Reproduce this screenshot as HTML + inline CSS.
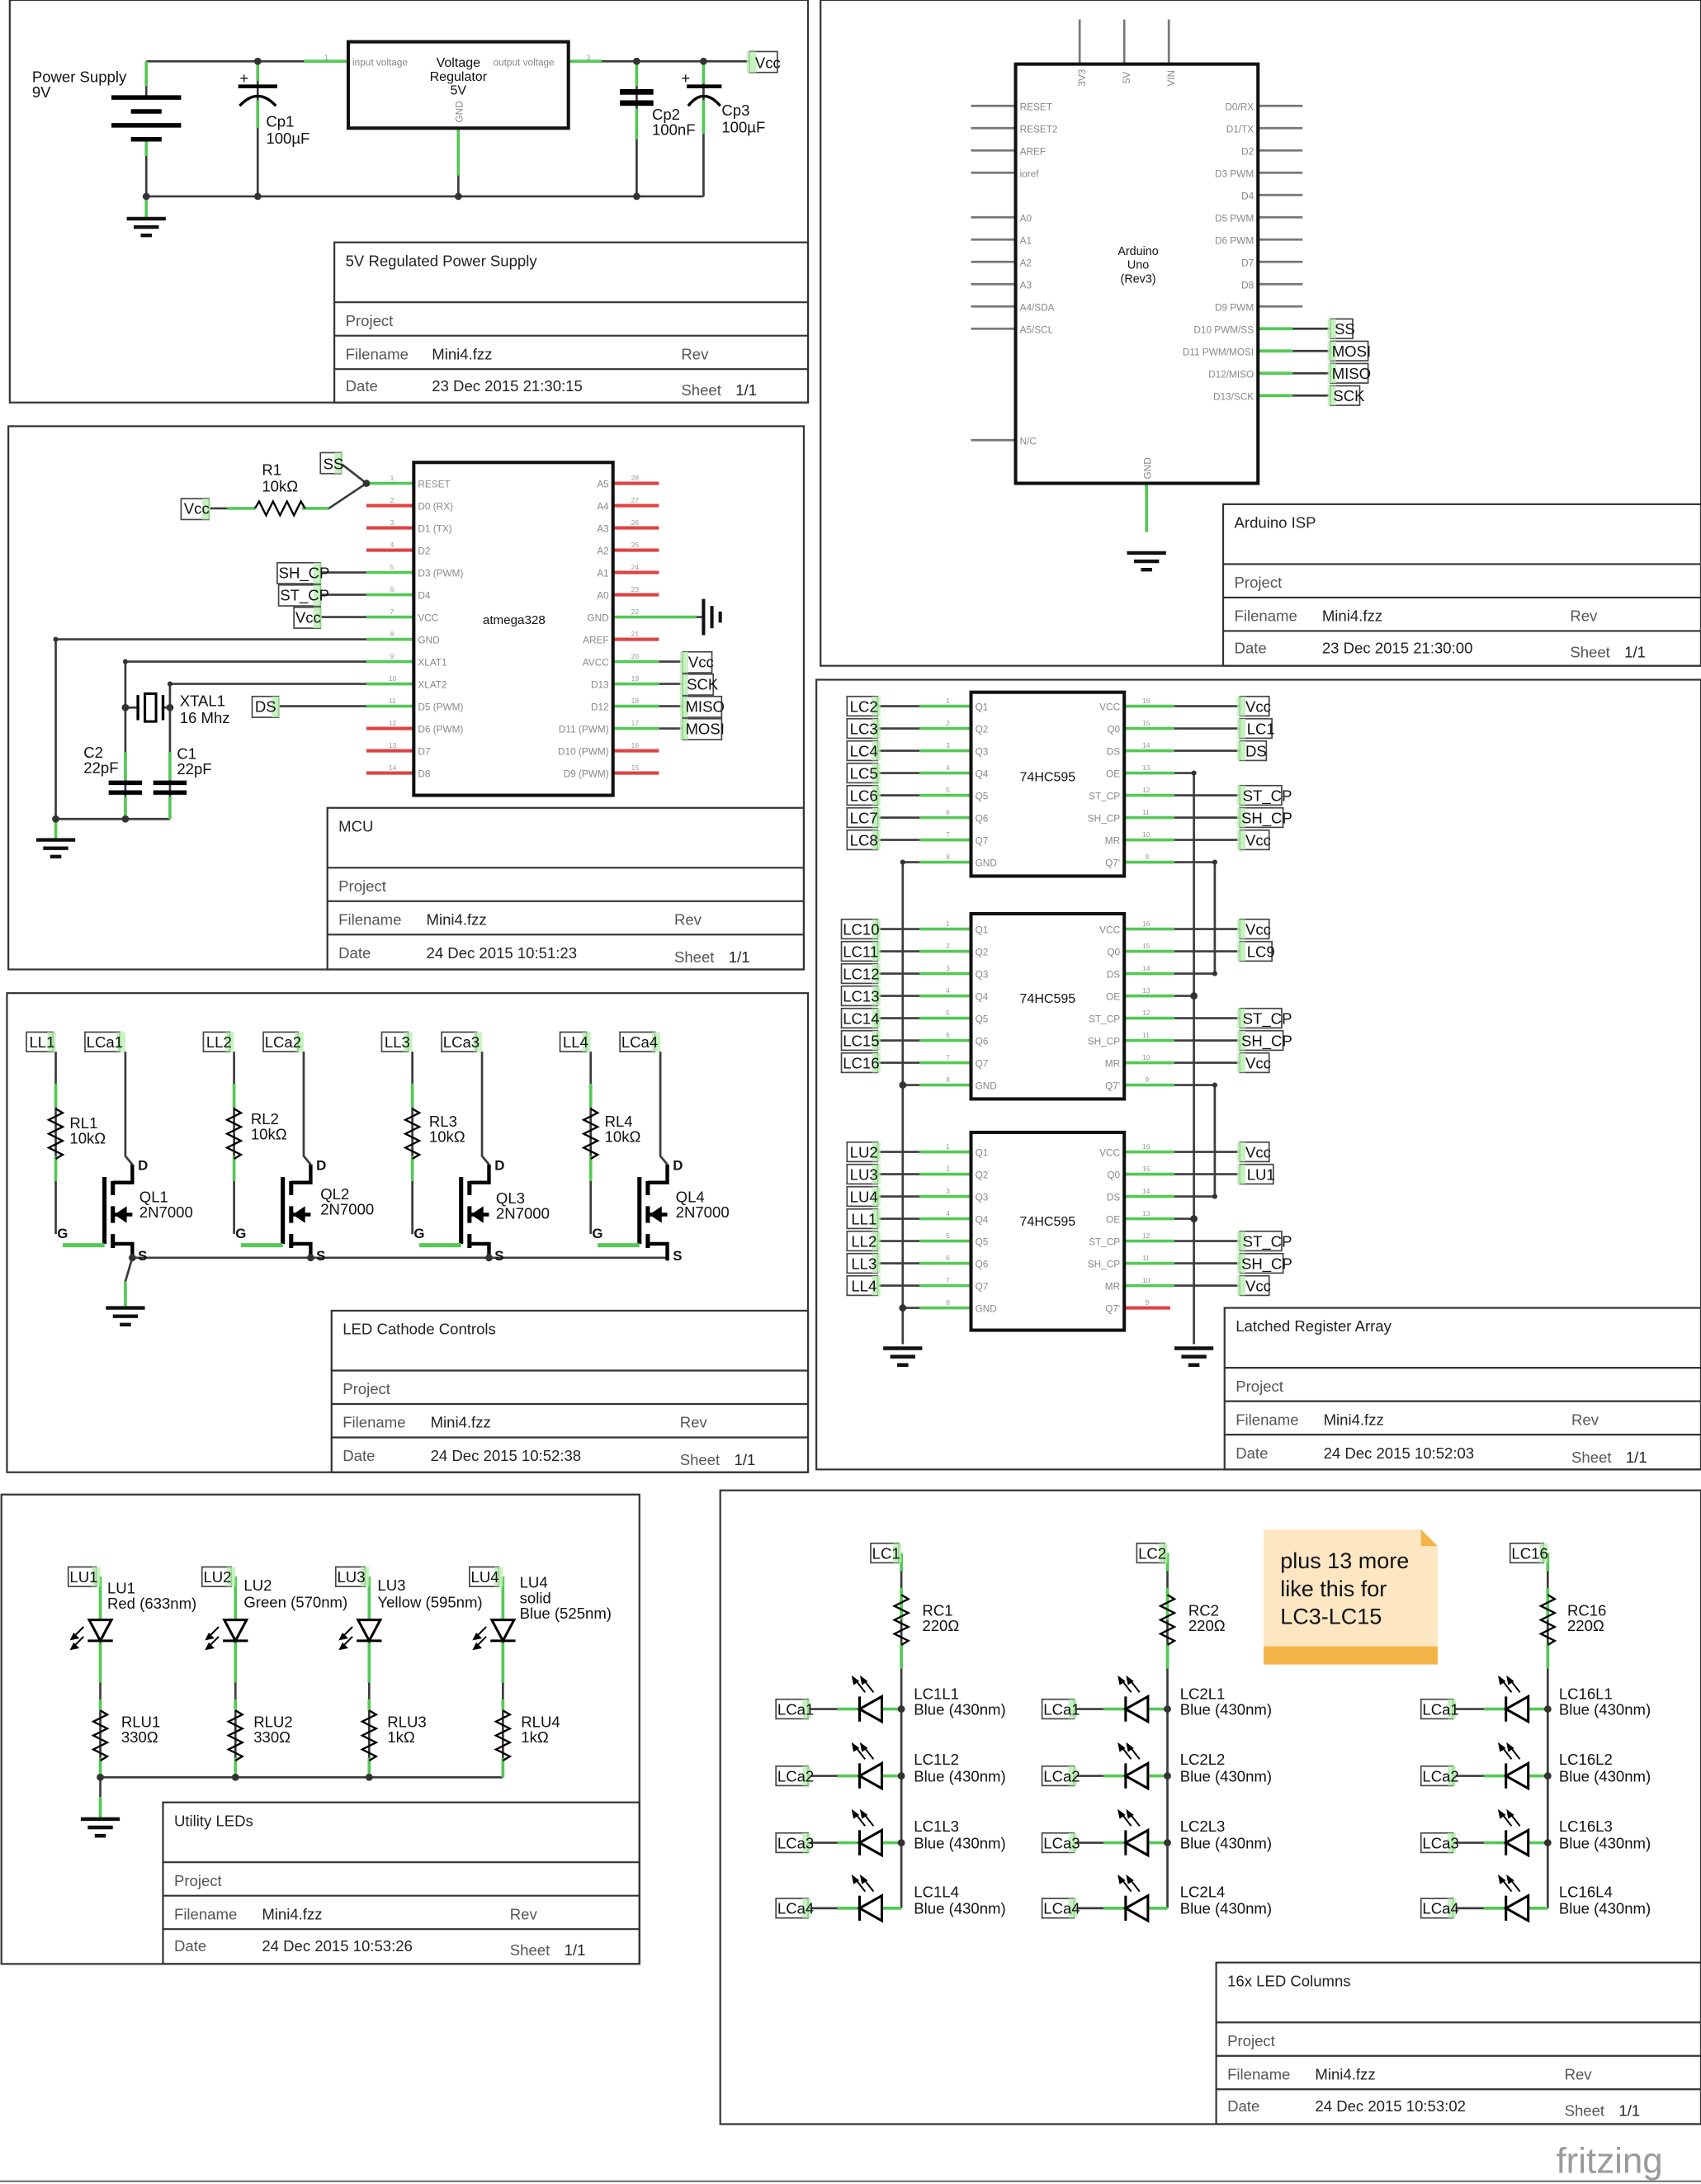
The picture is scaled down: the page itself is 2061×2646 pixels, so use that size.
<!DOCTYPE html>
<html><head><meta charset="utf-8">
<style>
html,body{margin:0;padding:0;background:#fff;}
svg{display:block;font-size:11px;}
text{font-family:"Liberation Sans",sans-serif;fill:#111;}
.fr{fill:none;stroke:#333;stroke-width:1.3}
.w{fill:none;stroke:#3c3c3c;stroke-width:1.6}
.g{fill:none;stroke:#55c855;stroke-width:2.2}
.r{fill:none;stroke:#d44;stroke-width:2.4}
.k{fill:none;stroke:#000;stroke-width:2}
.p{fill:none;stroke:#777;stroke-width:1.6}
.ic{fill:#fff;stroke:#111;stroke-width:2.4}
.pl{font-size:7px;fill:#888}
.pn{font-size:5px;fill:#999}
.nb{fill:#fff;stroke:#444;stroke-width:1}
.ng{fill:#b8f0b0;stroke:none;opacity:.8}
.tb{font-size:11px;fill:#222}
.tg{font-size:11px;fill:#555}
.lb{font-size:11px;fill:#111}
.d{fill:#333}
</style></head><body>
<svg width="2061" height="2646" viewBox="0 0 1221 1568" preserveAspectRatio="none" xmlns="http://www.w3.org/2000/svg" font-size="11">
<defs>
<g id="resV"><path d="M0,-17 l5,3 l-10,5 l10,5 l-10,5 l10,5 l-10,5 l10,5 l-5,3" fill="none" stroke="#000" stroke-width="1.4"/></g>
<g id="resH"><path d="M-17,0 l3,-5 l5,10 l5,-10 l5,10 l5,-10 l5,10 l5,-10 l3,5" fill="none" stroke="#000" stroke-width="1.4"/></g>
<g id="gnd"><path d="M-14,0 H14 M-9,6 H9 M-4,12 H4" stroke="#111" stroke-width="2.6"/></g>
<g id="ledL"><path d="M-14,0 H0 M-46,0 H-30" stroke="#55c855" stroke-width="2.2"/><polygon points="-14,-9 -14,9 -30,0" fill="#fff" stroke="#000" stroke-width="1.8"/><path d="M-30,-9 V9" stroke="#000" stroke-width="1.8"/><path d="M-26,-12 L-33,-21 M-20,-12 L-27,-21" stroke="#000" stroke-width="1.2"/><path d="M-35,-23 l1,5 l3,-2z M-29,-23 l1,5 l3,-2z" fill="#000" stroke="#000" stroke-width="1"/></g>
<g id="ledD"><polygon points="-8,0 8,0 0,15" fill="#fff" stroke="#000" stroke-width="1.8"/><path d="M-9,15 H9" stroke="#000" stroke-width="1.8"/><path d="M-12,5 L-20,13 M-12,12 L-20,20" stroke="#000" stroke-width="1.2"/><path d="M-21,14 l5,-1 l-3,-3z M-21,21 l5,-1 l-3,-3z" fill="#000" stroke="#000" stroke-width="1"/></g>
<g id="fet"><path d="M-20,-13 V35" stroke="#000" stroke-width="3"/><path d="M-14,-10 V0 M-14,8 V20 M-14,28 V38" stroke="#000" stroke-width="3"/><path d="M-14,-9 H0 V-22 M-14,35 H0 V47 M-14,14 H0" stroke="#000" stroke-width="2.6" fill="none"/><polygon points="-13,14 -4,8 -4,20" fill="#000"/><path d="M-50,36 H-20" stroke="#55c855" stroke-width="3"/></g>
</defs>

<!-- ============ PANEL 1: POWER SUPPLY ============ -->
<rect class="fr" x="7" y="0" width="573" height="289"/>
<path class="w" d="M105,44 H250 M408,44 H540 M105,141 H505 M105,100 V141 M185,44 V141 M457,44 V141 M505,44 V141 M329,92 V141 M105,44 V70"/>
<path class="g" d="M105,44 V62 M105,100 V112 M185,44 V58 M185,72 V92 M218,44 H250 M408,44 H432 M457,44 V62 M457,78 V100 M505,44 V60 M505,72 V96 M329,92 V126 M105,141 V157"/>
<path d="M80,70 H130 M94,80 H116 M80,90 H130 M94,100 H116" stroke="#000" stroke-width="3.2"/>
<path d="M171,62 H199" stroke="#000" stroke-width="2.6"/><path d="M172,76 Q185,62 198,76" class="k"/>
<path d="M445,66 H469 M445,74 H469" stroke="#000" stroke-width="4"/>
<path d="M493,62 H518" stroke="#000" stroke-width="2.6"/><path d="M494,76 Q505,62 517,76" class="k"/>
<text x="172" y="60" font-size="11">+</text><text x="489" y="60" font-size="11">+</text>
<rect class="ic" x="250" y="30" width="158" height="62"/>
<text x="329" y="48" text-anchor="middle" font-size="9.5">Voltage</text>
<text x="329" y="58" text-anchor="middle" font-size="9.5">Regulator</text>
<text x="329" y="68" text-anchor="middle" font-size="9.5">5V</text>
<text x="253" y="47" class="pl">input voltage</text>
<text x="354" y="47" class="pl">output voltage</text>
<text x="332" y="88" class="pl" transform="rotate(-90 332 88)">GND</text>
<text x="233" y="43" class="pn">1</text><text x="421" y="43" class="pn">3</text>
<circle class="d" cx="105" cy="141" r="2.6"/><circle class="d" cx="185" cy="141" r="2.6"/><circle class="d" cx="329" cy="141" r="2.6"/><circle class="d" cx="457" cy="141" r="2.6"/><circle class="d" cx="185" cy="44" r="2.6"/><circle class="d" cx="457" cy="44" r="2.6"/><circle class="d" cx="505" cy="44" r="2.6"/>
<use href="#gnd" x="105" y="157"/>
<text x="23" y="59" class="lb">Power Supply</text><text x="23" y="70" class="lb">9V</text>
<text x="191" y="91" class="lb">Cp1</text><text x="191" y="103" class="lb">100µF</text>
<text x="468" y="86" class="lb">Cp2</text><text x="468" y="97" class="lb">100nF</text>
<text x="518" y="83" class="lb">Cp3</text><text x="518" y="95" class="lb">100µF</text>
<rect class="nb" x="538" y="37" width="20" height="15"/><rect class="ng" x="536" y="37" width="7" height="15"/><text x="542" y="49" class="lb">Vcc</text>
<rect class="fr" x="240" y="174" width="340" height="115"/><path class="fr" d="M240,217 H580 M240,241 H580 M240,265 H580"/>
<text x="248" y="191" class="tb">5V Regulated Power Supply</text>
<text x="248" y="234" class="tg">Project</text>
<text x="248" y="258" class="tg">Filename</text><text x="310" y="258" class="tb">Mini4.fzz</text><text x="489" y="258" class="tg">Rev</text>
<text x="248" y="281" class="tg">Date</text><text x="310" y="281" class="tb">23 Dec 2015 21:30:15</text><text x="489" y="284" class="tg">Sheet</text><text x="528" y="284" class="tb">1/1</text>

<!-- ============ PANEL 2: ARDUINO ISP ============ -->
<rect class="fr" x="589" y="0" width="632" height="478"/>
<path class="p" d="M775,14 V46 M807,14 V46 M839,14 V46"/>
<path class="p" d="M697,76 H729 M697,92 H729 M697,108 H729 M697,124 H729 M697,156 H729 M697,172 H729 M697,188 H729 M697,204 H729 M697,220 H729 M697,236 H729 M697,316 H729"/>
<path class="p" d="M903,76 H935 M903,92 H935 M903,108 H935 M903,124 H935 M903,140 H935 M903,156 H935 M903,172 H935 M903,188 H935 M903,204 H935 M903,220 H935"/>
<path class="w" d="M925,236 H955 M925,252 H955 M925,268 H955 M925,284 H955"/>
<path class="g" d="M903,236 H928 M903,252 H928 M903,268 H928 M903,284 H928 M823,347 V382"/>
<rect class="ic" x="729" y="46" width="174" height="301"/>
<text x="779" y="62" class="pl" transform="rotate(-90 779 62)">3V3</text>
<text x="811" y="60" class="pl" transform="rotate(-90 811 60)">5V</text>
<text x="843" y="62" class="pl" transform="rotate(-90 843 62)">VIN</text>
<text x="732" y="79" class="pl">RESET</text><text x="732" y="95" class="pl">RESET2</text><text x="732" y="111" class="pl">AREF</text><text x="732" y="127" class="pl">ioref</text>
<text x="732" y="159" class="pl">A0</text><text x="732" y="175" class="pl">A1</text><text x="732" y="191" class="pl">A2</text><text x="732" y="207" class="pl">A3</text><text x="732" y="223" class="pl">A4/SDA</text><text x="732" y="239" class="pl">A5/SCL</text><text x="732" y="319" class="pl">N/C</text>
<g text-anchor="end">
<text x="900" y="79" class="pl">D0/RX</text><text x="900" y="95" class="pl">D1/TX</text><text x="900" y="111" class="pl">D2</text><text x="900" y="127" class="pl">D3 PWM</text><text x="900" y="143" class="pl">D4</text><text x="900" y="159" class="pl">D5 PWM</text><text x="900" y="175" class="pl">D6 PWM</text><text x="900" y="191" class="pl">D7</text><text x="900" y="207" class="pl">D8</text><text x="900" y="223" class="pl">D9 PWM</text><text x="900" y="239" class="pl">D10 PWM/SS</text><text x="900" y="255" class="pl">D11 PWM/MOSI</text><text x="900" y="271" class="pl">D12/MISO</text><text x="900" y="287" class="pl">D13/SCK</text>
</g>
<text x="817" y="183" text-anchor="middle" font-size="8.5">Arduino</text><text x="817" y="193" text-anchor="middle" font-size="8.5">Uno</text><text x="817" y="203" text-anchor="middle" font-size="8.5">(Rev3)</text>
<text x="826" y="344" class="pl" transform="rotate(-90 826 344)">GND</text>
<rect class="nb" x="955" y="229" width="16" height="14"/><rect class="ng" x="953" y="229" width="6" height="14"/><text x="958" y="240" class="lb">SS</text>
<rect class="nb" x="955" y="245" width="27" height="14"/><rect class="ng" x="953" y="245" width="6" height="14"/><text x="956" y="256" class="lb">MOSI</text>
<rect class="nb" x="955" y="261" width="27" height="14"/><rect class="ng" x="953" y="261" width="6" height="14"/><text x="956" y="272" class="lb">MISO</text>
<rect class="nb" x="955" y="277" width="21" height="14"/><rect class="ng" x="953" y="277" width="6" height="14"/><text x="957" y="288" class="lb">SCK</text>
<use href="#gnd" x="823" y="397"/>
<rect class="fr" x="878" y="362" width="343" height="116"/><path class="fr" d="M878,405 H1221 M878,429 H1221 M878,453 H1221"/>
<text x="886" y="379" class="tb">Arduino ISP</text>
<text x="886" y="422" class="tg">Project</text>
<text x="886" y="446" class="tg">Filename</text><text x="949" y="446" class="tb">Mini4.fzz</text><text x="1127" y="446" class="tg">Rev</text>
<text x="886" y="469" class="tg">Date</text><text x="949" y="469" class="tb">23 Dec 2015 21:30:00</text><text x="1127" y="472" class="tg">Sheet</text><text x="1166" y="472" class="tb">1/1</text>

<!-- ============ PANEL 3: MCU ============ -->
<rect class="fr" x="6" y="306" width="571" height="390"/>
<path class="r" d="M263,363 H297 M263,379 H297 M263,395 H297 M263,523 H297 M263,539 H297 M263,555 H297"/>
<path class="r" d="M440,347 H473 M440,363 H473 M440,379 H473 M440,395 H473 M440,411 H473 M440,427 H473 M440,459 H473 M440,539 H473 M440,555 H473"/>
<path class="w" d="M200,411 H263 M230,427 H263 M230,443 H263 M40,459 H263 M90,475 H263 M122,491 H263 M200,507 H263 M473,443 H505 M473,475 H490 M473,491 H490 M473,507 H490 M473,523 H490 M150,365 H183 M217,365 H236 L263,347 M245,333 L263,347 M40,459 V588 M40,588 H122 M90,475 V588 M122,491 V588 M90,508 H99 M117,508 H122"/>
<path class="g" d="M263,347 H297 M263,411 H297 M263,427 H297 M263,443 H297 M263,459 H297 M263,475 H297 M263,491 H297 M263,507 H297 M440,443 H473 M440,475 H473 M440,491 H473 M440,507 H473 M440,523 H473 M473,443 H500 M163,365 H183 M217,365 H236 M90,540 V560 M122,540 V560 M90,572 V588 M122,572 V588 M40,588 V602"/>
<rect class="ic" x="297" y="332" width="143" height="239"/>
<text x="300" y="350" class="pl">RESET</text><text x="300" y="366" class="pl">D0 (RX)</text><text x="300" y="382" class="pl">D1 (TX)</text><text x="300" y="398" class="pl">D2</text><text x="300" y="414" class="pl">D3 (PWM)</text><text x="300" y="430" class="pl">D4</text><text x="300" y="446" class="pl">VCC</text><text x="300" y="462" class="pl">GND</text><text x="300" y="478" class="pl">XLAT1</text><text x="300" y="494" class="pl">XLAT2</text><text x="300" y="510" class="pl">D5 (PWM)</text><text x="300" y="526" class="pl">D6 (PWM)</text><text x="300" y="542" class="pl">D7</text><text x="300" y="558" class="pl">D8</text>
<g text-anchor="end">
<text x="437" y="350" class="pl">A5</text><text x="437" y="366" class="pl">A4</text><text x="437" y="382" class="pl">A3</text><text x="437" y="398" class="pl">A2</text><text x="437" y="414" class="pl">A1</text><text x="437" y="430" class="pl">A0</text><text x="437" y="446" class="pl">GND</text><text x="437" y="462" class="pl">AREF</text><text x="437" y="478" class="pl">AVCC</text><text x="437" y="494" class="pl">D13</text><text x="437" y="510" class="pl">D12</text><text x="437" y="526" class="pl">D11 (PWM)</text><text x="437" y="542" class="pl">D10 (PWM)</text><text x="437" y="558" class="pl">D9 (PWM)</text>
</g>
<text x="280" y="345" class="pn">1</text><text x="280" y="361" class="pn">2</text><text x="280" y="377" class="pn">3</text><text x="280" y="393" class="pn">4</text><text x="280" y="409" class="pn">5</text><text x="280" y="425" class="pn">6</text><text x="280" y="441" class="pn">7</text><text x="280" y="457" class="pn">8</text><text x="280" y="473" class="pn">9</text><text x="279" y="489" class="pn">10</text><text x="279" y="505" class="pn">11</text><text x="279" y="521" class="pn">12</text><text x="279" y="537" class="pn">13</text><text x="279" y="553" class="pn">14</text>
<text x="453" y="345" class="pn">28</text><text x="453" y="361" class="pn">27</text><text x="453" y="377" class="pn">26</text><text x="453" y="393" class="pn">25</text><text x="453" y="409" class="pn">24</text><text x="453" y="425" class="pn">23</text><text x="453" y="441" class="pn">22</text><text x="453" y="457" class="pn">21</text><text x="453" y="473" class="pn">20</text><text x="453" y="489" class="pn">19</text><text x="453" y="505" class="pn">18</text><text x="453" y="521" class="pn">17</text><text x="453" y="537" class="pn">16</text><text x="453" y="553" class="pn">15</text>
<text x="369" y="448" text-anchor="middle" font-size="9">atmega328</text>
<path d="M505,430 V456 M511,435 V451 M517,439 V447" stroke="#111" stroke-width="2.4"/>
<use href="#resH" x="200" y="365"/>
<text x="188" y="341" class="lb">R1</text><text x="188" y="353" class="lb">10kΩ</text>
<rect class="nb" x="230" y="325" width="15" height="15"/><rect class="ng" x="240" y="325" width="6" height="15"/><text x="232" y="337" class="lb">SS</text>
<rect class="nb" x="130" y="358" width="20" height="15"/><rect class="ng" x="145" y="358" width="6" height="15"/><text x="132" y="369" class="lb">Vcc</text>
<rect class="nb" x="199" y="404" width="31" height="15"/><rect class="ng" x="225" y="404" width="6" height="15"/><text x="200" y="415" class="lb">SH_CP</text>
<rect class="nb" x="200" y="420" width="30" height="15"/><rect class="ng" x="225" y="420" width="6" height="15"/><text x="201" y="431" class="lb">ST_CP</text>
<rect class="nb" x="211" y="436" width="19" height="15"/><rect class="ng" x="225" y="436" width="6" height="15"/><text x="212" y="447" class="lb">Vcc</text>
<rect class="nb" x="181" y="500" width="19" height="15"/><rect class="ng" x="195" y="500" width="6" height="15"/><text x="183" y="511" class="lb">DS</text>
<rect class="nb" x="490" y="468" width="21" height="15"/><rect class="ng" x="488" y="468" width="6" height="15"/><text x="494" y="479" class="lb">Vcc</text>
<rect class="nb" x="490" y="484" width="22" height="15"/><rect class="ng" x="488" y="484" width="6" height="15"/><text x="493" y="495" class="lb">SCK</text>
<rect class="nb" x="490" y="500" width="28" height="15"/><rect class="ng" x="488" y="500" width="6" height="15"/><text x="492" y="511" class="lb">MISO</text>
<rect class="nb" x="490" y="516" width="28" height="15"/><rect class="ng" x="488" y="516" width="6" height="15"/><text x="492" y="527" class="lb">MOSI</text>
<path d="M99,499 V517 M117,499 V517" stroke="#000" stroke-width="2"/><rect x="104" y="498" width="8" height="20" fill="#fff" stroke="#000" stroke-width="1.8"/>
<text x="129" y="507" class="lb">XTAL1</text><text x="129" y="519" class="lb">16 Mhz</text>
<path d="M78,562 H102 M78,569 H102 M110,562 H134 M110,569 H134" stroke="#000" stroke-width="3.2"/>
<text x="60" y="544" class="lb">C2</text><text x="60" y="555" class="lb">22pF</text>
<text x="127" y="545" class="lb">C1</text><text x="127" y="556" class="lb">22pF</text>
<circle class="d" cx="263" cy="347" r="2.6"/><circle class="d" cx="40" cy="459" r="1.8"/><circle class="d" cx="90" cy="475" r="1.8"/><circle class="d" cx="122" cy="491" r="1.8"/><circle class="d" cx="90" cy="508" r="2.6"/><circle class="d" cx="122" cy="508" r="2.6"/><circle class="d" cx="40" cy="588" r="2.6"/><circle class="d" cx="90" cy="588" r="2.6"/>
<use href="#gnd" x="40" y="603"/>
<rect class="fr" x="235" y="580" width="342" height="116"/><path class="fr" d="M235,623 H577 M235,647 H577 M235,671 H577"/>
<text x="243" y="597" class="tb">MCU</text>
<text x="243" y="640" class="tg">Project</text>
<text x="243" y="664" class="tg">Filename</text><text x="306" y="664" class="tb">Mini4.fzz</text><text x="484" y="664" class="tg">Rev</text>
<text x="243" y="688" class="tg">Date</text><text x="306" y="688" class="tb">24 Dec 2015 10:51:23</text><text x="484" y="691" class="tg">Sheet</text><text x="523" y="691" class="tb">1/1</text>

<!-- ============ PANEL 4: LED CATHODE ============ -->
<rect class="fr" x="5" y="713" width="575" height="344"/>
<path class="w" d="M40,755 V886 M90,755 V830 L95,836 M168,755 V886 M218,755 V830 L223,836 M296,755 V886 M346,755 V830 L351,836 M424,755 V886 M474,755 V830 L479,836 M95,903 H480 M95,903 L90,920 V938"/>
<path class="g" d="M40,778 V795 M40,830 V848 M168,778 V795 M168,830 V848 M296,778 V795 M296,830 V848 M424,778 V795 M424,830 V848 M90,920 V938"/>
<use href="#fet" x="95" y="858"/><use href="#fet" x="223" y="858"/><use href="#fet" x="351" y="858"/><use href="#fet" x="479" y="858"/>
<text x="99" y="840" font-weight="bold" font-size="10">D</text><text x="41" y="889" font-weight="bold" font-size="10">G</text><text x="99" y="905" font-weight="bold" font-size="10">S</text>
<text x="227" y="840" font-weight="bold" font-size="10">D</text><text x="169" y="889" font-weight="bold" font-size="10">G</text><text x="227" y="905" font-weight="bold" font-size="10">S</text>
<text x="355" y="840" font-weight="bold" font-size="10">D</text><text x="297" y="889" font-weight="bold" font-size="10">G</text><text x="355" y="905" font-weight="bold" font-size="10">S</text>
<text x="483" y="840" font-weight="bold" font-size="10">D</text><text x="425" y="889" font-weight="bold" font-size="10">G</text><text x="483" y="905" font-weight="bold" font-size="10">S</text>
<use href="#resV" x="40" y="813"/><use href="#resV" x="168" y="813"/><use href="#resV" x="296" y="813"/><use href="#resV" x="424" y="813"/>
<text x="50" y="810" class="lb">RL1</text><text x="50" y="821" class="lb">10kΩ</text>
<text x="180" y="807" class="lb">RL2</text><text x="180" y="818" class="lb">10kΩ</text>
<text x="308" y="809" class="lb">RL3</text><text x="308" y="820" class="lb">10kΩ</text>
<text x="434" y="809" class="lb">RL4</text><text x="434" y="820" class="lb">10kΩ</text>
<text x="100" y="863" class="lb">QL1</text><text x="100" y="874" class="lb">2N7000</text>
<text x="230" y="861" class="lb">QL2</text><text x="230" y="872" class="lb">2N7000</text>
<text x="356" y="864" class="lb">QL3</text><text x="356" y="875" class="lb">2N7000</text>
<text x="485" y="863" class="lb">QL4</text><text x="485" y="874" class="lb">2N7000</text>
<rect class="nb" x="19" y="741" width="19" height="14"/><rect class="ng" x="34" y="741" width="6" height="14"/><text x="21" y="752" class="lb">LL1</text>
<rect class="nb" x="61" y="741" width="25" height="14"/><rect class="ng" x="84" y="741" width="6" height="14"/><text x="62" y="752" class="lb">LCa1</text>
<rect class="nb" x="146" y="741" width="19" height="14"/><rect class="ng" x="162" y="741" width="6" height="14"/><text x="148" y="752" class="lb">LL2</text>
<rect class="nb" x="189" y="741" width="25" height="14"/><rect class="ng" x="212" y="741" width="6" height="14"/><text x="190" y="752" class="lb">LCa2</text>
<rect class="nb" x="274" y="741" width="19" height="14"/><rect class="ng" x="290" y="741" width="6" height="14"/><text x="276" y="752" class="lb">LL3</text>
<rect class="nb" x="317" y="741" width="25" height="14"/><rect class="ng" x="340" y="741" width="6" height="14"/><text x="318" y="752" class="lb">LCa3</text>
<rect class="nb" x="402" y="741" width="19" height="14"/><rect class="ng" x="418" y="741" width="6" height="14"/><text x="404" y="752" class="lb">LL4</text>
<rect class="nb" x="445" y="741" width="25" height="14"/><rect class="ng" x="468" y="741" width="6" height="14"/><text x="446" y="752" class="lb">LCa4</text>
<circle class="d" cx="95" cy="903" r="2.6"/><circle class="d" cx="223" cy="903" r="2.6"/><circle class="d" cx="351" cy="903" r="2.6"/>
<use href="#gnd" x="90" y="939"/>
<rect class="fr" x="238" y="941" width="342" height="116"/><path class="fr" d="M238,984 H580 M238,1008 H580 M238,1032 H580"/>
<text x="246" y="958" class="tb">LED Cathode Controls</text>
<text x="246" y="1001" class="tg">Project</text>
<text x="246" y="1025" class="tg">Filename</text><text x="309" y="1025" class="tb">Mini4.fzz</text><text x="488" y="1025" class="tg">Rev</text>
<text x="246" y="1049" class="tg">Date</text><text x="309" y="1049" class="tb">24 Dec 2015 10:52:38</text><text x="488" y="1052" class="tg">Sheet</text><text x="527" y="1052" class="tb">1/1</text>

<!-- ============ PANEL 5: LATCHED REGISTER ============ -->
<rect class="fr" x="586" y="488" width="635" height="567"/>
<path class="w" d="M630,507 H697 M630,523 H697 M630,539 H697 M630,555 H697 M630,571 H697 M630,587 H697 M630,603 H697
M630,667 H697 M630,683 H697 M630,699 H697 M630,715 H697 M630,731 H697 M630,747 H697 M630,763 H697
M630,827 H697 M630,843 H697 M630,859 H697 M630,875 H697 M630,891 H697 M630,907 H697 M630,923 H697
M648,619 H697 M648,779 H697 M648,939 H697 M648,619 V965"/>
<path class="g" d="M660,507 H697 M660,523 H697 M660,539 H697 M660,555 H697 M660,571 H697 M660,587 H697 M660,603 H697 M660,619 H697
M660,667 H697 M660,683 H697 M660,699 H697 M660,715 H697 M660,731 H697 M660,747 H697 M660,763 H697 M660,779 H697
M660,827 H697 M660,843 H697 M660,859 H697 M660,875 H697 M660,891 H697 M660,907 H697 M660,923 H697 M660,939 H697"/>
<path class="w" d="M807,507 H890 M807,523 H890 M807,539 H890 M807,555 H857 M807,571 H890 M807,587 H890 M807,603 H890 M807,619 H872 V699 H807
M807,667 H890 M807,683 H890 M807,715 H857 M807,731 H890 M807,747 H890 M807,763 H890 M807,779 H872 V859 H807
M807,827 H890 M807,843 H890 M807,875 H857 M807,891 H890 M807,907 H890 M807,923 H890 M857,555 V965"/>
<path class="g" d="M807,507 H843 M807,523 H843 M807,539 H843 M807,555 H843 M807,571 H843 M807,587 H843 M807,603 H843 M807,619 H843
M807,667 H843 M807,683 H843 M807,699 H843 M807,715 H843 M807,731 H843 M807,747 H843 M807,763 H843 M807,779 H843
M807,827 H843 M807,843 H843 M807,859 H843 M807,875 H843 M807,891 H843 M807,907 H843 M807,923 H843"/>
<path class="r" d="M807,939 H840"/>
<rect class="ic" x="697" y="497" width="110" height="132"/>
<rect class="ic" x="697" y="656" width="110" height="133"/>
<rect class="ic" x="697" y="813" width="110" height="142"/>
<text x="752" y="561" text-anchor="middle" font-size="9.5">74HC595</text>
<text x="752" y="720" text-anchor="middle" font-size="9.5">74HC595</text>
<text x="752" y="880" text-anchor="middle" font-size="9.5">74HC595</text>
<text x="700" y="510" class="pl">Q1</text><text x="700" y="526" class="pl">Q2</text><text x="700" y="542" class="pl">Q3</text><text x="700" y="558" class="pl">Q4</text><text x="700" y="574" class="pl">Q5</text><text x="700" y="590" class="pl">Q6</text><text x="700" y="606" class="pl">Q7</text><text x="700" y="622" class="pl">GND</text>
<text x="700" y="670" class="pl">Q1</text><text x="700" y="686" class="pl">Q2</text><text x="700" y="702" class="pl">Q3</text><text x="700" y="718" class="pl">Q4</text><text x="700" y="734" class="pl">Q5</text><text x="700" y="750" class="pl">Q6</text><text x="700" y="766" class="pl">Q7</text><text x="700" y="782" class="pl">GND</text>
<text x="700" y="830" class="pl">Q1</text><text x="700" y="846" class="pl">Q2</text><text x="700" y="862" class="pl">Q3</text><text x="700" y="878" class="pl">Q4</text><text x="700" y="894" class="pl">Q5</text><text x="700" y="910" class="pl">Q6</text><text x="700" y="926" class="pl">Q7</text><text x="700" y="942" class="pl">GND</text>
<g text-anchor="end">
<text x="804" y="510" class="pl">VCC</text><text x="804" y="526" class="pl">Q0</text><text x="804" y="542" class="pl">DS</text><text x="804" y="558" class="pl">OE</text><text x="804" y="574" class="pl">ST_CP</text><text x="804" y="590" class="pl">SH_CP</text><text x="804" y="606" class="pl">MR</text><text x="804" y="622" class="pl">Q7'</text>
<text x="804" y="670" class="pl">VCC</text><text x="804" y="686" class="pl">Q0</text><text x="804" y="702" class="pl">DS</text><text x="804" y="718" class="pl">OE</text><text x="804" y="734" class="pl">ST_CP</text><text x="804" y="750" class="pl">SH_CP</text><text x="804" y="766" class="pl">MR</text><text x="804" y="782" class="pl">Q7'</text>
<text x="804" y="830" class="pl">VCC</text><text x="804" y="846" class="pl">Q0</text><text x="804" y="862" class="pl">DS</text><text x="804" y="878" class="pl">OE</text><text x="804" y="894" class="pl">ST_CP</text><text x="804" y="910" class="pl">SH_CP</text><text x="804" y="926" class="pl">MR</text><text x="804" y="942" class="pl">Q7'</text>
</g>
<text x="679" y="505" class="pn">1</text><text x="679" y="521" class="pn">2</text><text x="679" y="537" class="pn">3</text><text x="679" y="553" class="pn">4</text><text x="679" y="569" class="pn">5</text><text x="679" y="585" class="pn">6</text><text x="679" y="601" class="pn">7</text><text x="679" y="617" class="pn">8</text>
<text x="679" y="665" class="pn">1</text><text x="679" y="681" class="pn">2</text><text x="679" y="697" class="pn">3</text><text x="679" y="713" class="pn">4</text><text x="679" y="729" class="pn">5</text><text x="679" y="745" class="pn">6</text><text x="679" y="761" class="pn">7</text><text x="679" y="777" class="pn">8</text>
<text x="679" y="825" class="pn">1</text><text x="679" y="841" class="pn">2</text><text x="679" y="857" class="pn">3</text><text x="679" y="873" class="pn">4</text><text x="679" y="889" class="pn">5</text><text x="679" y="905" class="pn">6</text><text x="679" y="921" class="pn">7</text><text x="679" y="937" class="pn">8</text>
<text x="820" y="505" class="pn">16</text><text x="820" y="521" class="pn">15</text><text x="820" y="537" class="pn">14</text><text x="820" y="553" class="pn">13</text><text x="820" y="569" class="pn">12</text><text x="820" y="585" class="pn">11</text><text x="820" y="601" class="pn">10</text><text x="822" y="617" class="pn">9</text>
<text x="820" y="665" class="pn">16</text><text x="820" y="681" class="pn">15</text><text x="820" y="697" class="pn">14</text><text x="820" y="713" class="pn">13</text><text x="820" y="729" class="pn">12</text><text x="820" y="745" class="pn">11</text><text x="820" y="761" class="pn">10</text><text x="822" y="777" class="pn">9</text>
<text x="820" y="825" class="pn">16</text><text x="820" y="841" class="pn">15</text><text x="820" y="857" class="pn">14</text><text x="820" y="873" class="pn">13</text><text x="820" y="889" class="pn">12</text><text x="820" y="905" class="pn">11</text><text x="820" y="921" class="pn">10</text><text x="822" y="937" class="pn">9</text>
<rect class="nb" x="608" y="500" width="22" height="14"/><rect class="ng" x="626" y="500" width="6" height="14"/><text x="610" y="511" class="lb">LC2</text>
<rect class="nb" x="608" y="516" width="22" height="14"/><rect class="ng" x="626" y="516" width="6" height="14"/><text x="610" y="527" class="lb">LC3</text>
<rect class="nb" x="608" y="532" width="22" height="14"/><rect class="ng" x="626" y="532" width="6" height="14"/><text x="610" y="543" class="lb">LC4</text>
<rect class="nb" x="608" y="548" width="22" height="14"/><rect class="ng" x="626" y="548" width="6" height="14"/><text x="610" y="559" class="lb">LC5</text>
<rect class="nb" x="608" y="564" width="22" height="14"/><rect class="ng" x="626" y="564" width="6" height="14"/><text x="610" y="575" class="lb">LC6</text>
<rect class="nb" x="608" y="580" width="22" height="14"/><rect class="ng" x="626" y="580" width="6" height="14"/><text x="610" y="591" class="lb">LC7</text>
<rect class="nb" x="608" y="596" width="22" height="14"/><rect class="ng" x="626" y="596" width="6" height="14"/><text x="610" y="607" class="lb">LC8</text>
<rect class="nb" x="604" y="660" width="26" height="14"/><rect class="ng" x="626" y="660" width="6" height="14"/><text x="605" y="671" class="lb">LC10</text>
<rect class="nb" x="604" y="676" width="26" height="14"/><rect class="ng" x="626" y="676" width="6" height="14"/><text x="605" y="687" class="lb">LC11</text>
<rect class="nb" x="604" y="692" width="26" height="14"/><rect class="ng" x="626" y="692" width="6" height="14"/><text x="605" y="703" class="lb">LC12</text>
<rect class="nb" x="604" y="708" width="26" height="14"/><rect class="ng" x="626" y="708" width="6" height="14"/><text x="605" y="719" class="lb">LC13</text>
<rect class="nb" x="604" y="724" width="26" height="14"/><rect class="ng" x="626" y="724" width="6" height="14"/><text x="605" y="735" class="lb">LC14</text>
<rect class="nb" x="604" y="740" width="26" height="14"/><rect class="ng" x="626" y="740" width="6" height="14"/><text x="605" y="751" class="lb">LC15</text>
<rect class="nb" x="604" y="756" width="26" height="14"/><rect class="ng" x="626" y="756" width="6" height="14"/><text x="605" y="767" class="lb">LC16</text>
<rect class="nb" x="608" y="820" width="22" height="14"/><rect class="ng" x="626" y="820" width="6" height="14"/><text x="610" y="831" class="lb">LU2</text>
<rect class="nb" x="608" y="836" width="22" height="14"/><rect class="ng" x="626" y="836" width="6" height="14"/><text x="610" y="847" class="lb">LU3</text>
<rect class="nb" x="608" y="852" width="22" height="14"/><rect class="ng" x="626" y="852" width="6" height="14"/><text x="610" y="863" class="lb">LU4</text>
<rect class="nb" x="608" y="868" width="22" height="14"/><rect class="ng" x="626" y="868" width="6" height="14"/><text x="611" y="879" class="lb">LL1</text>
<rect class="nb" x="608" y="884" width="22" height="14"/><rect class="ng" x="626" y="884" width="6" height="14"/><text x="611" y="895" class="lb">LL2</text>
<rect class="nb" x="608" y="900" width="22" height="14"/><rect class="ng" x="626" y="900" width="6" height="14"/><text x="611" y="911" class="lb">LL3</text>
<rect class="nb" x="608" y="916" width="22" height="14"/><rect class="ng" x="626" y="916" width="6" height="14"/><text x="611" y="927" class="lb">LL4</text>
<rect class="nb" x="890" y="500" width="21" height="14"/><rect class="ng" x="888" y="500" width="6" height="14"/><text x="894" y="511" class="lb">Vcc</text>
<rect class="nb" x="890" y="516" width="23" height="14"/><rect class="ng" x="888" y="516" width="6" height="14"/><text x="895" y="527" class="lb">LC1</text>
<rect class="nb" x="890" y="532" width="19" height="14"/><rect class="ng" x="888" y="532" width="6" height="14"/><text x="894" y="543" class="lb">DS</text>
<rect class="nb" x="890" y="564" width="30" height="14"/><rect class="ng" x="888" y="564" width="6" height="14"/><text x="892" y="575" class="lb">ST_CP</text>
<rect class="nb" x="890" y="580" width="31" height="14"/><rect class="ng" x="888" y="580" width="6" height="14"/><text x="891" y="591" class="lb">SH_CP</text>
<rect class="nb" x="890" y="596" width="21" height="14"/><rect class="ng" x="888" y="596" width="6" height="14"/><text x="894" y="607" class="lb">Vcc</text>
<rect class="nb" x="890" y="660" width="21" height="14"/><rect class="ng" x="888" y="660" width="6" height="14"/><text x="894" y="671" class="lb">Vcc</text>
<rect class="nb" x="890" y="676" width="23" height="14"/><rect class="ng" x="888" y="676" width="6" height="14"/><text x="895" y="687" class="lb">LC9</text>
<rect class="nb" x="890" y="724" width="30" height="14"/><rect class="ng" x="888" y="724" width="6" height="14"/><text x="892" y="735" class="lb">ST_CP</text>
<rect class="nb" x="890" y="740" width="31" height="14"/><rect class="ng" x="888" y="740" width="6" height="14"/><text x="891" y="751" class="lb">SH_CP</text>
<rect class="nb" x="890" y="756" width="21" height="14"/><rect class="ng" x="888" y="756" width="6" height="14"/><text x="894" y="767" class="lb">Vcc</text>
<rect class="nb" x="890" y="820" width="21" height="14"/><rect class="ng" x="888" y="820" width="6" height="14"/><text x="894" y="831" class="lb">Vcc</text>
<rect class="nb" x="890" y="836" width="24" height="14"/><rect class="ng" x="888" y="836" width="6" height="14"/><text x="895" y="847" class="lb">LU1</text>
<rect class="nb" x="890" y="884" width="30" height="14"/><rect class="ng" x="888" y="884" width="6" height="14"/><text x="892" y="895" class="lb">ST_CP</text>
<rect class="nb" x="890" y="900" width="31" height="14"/><rect class="ng" x="888" y="900" width="6" height="14"/><text x="891" y="911" class="lb">SH_CP</text>
<rect class="nb" x="890" y="916" width="21" height="14"/><rect class="ng" x="888" y="916" width="6" height="14"/><text x="894" y="927" class="lb">Vcc</text>
<circle class="d" cx="648" cy="619" r="1.8"/><circle class="d" cx="648" cy="779" r="2.6"/><circle class="d" cx="648" cy="939" r="2.6"/><circle class="d" cx="857" cy="555" r="1.8"/><circle class="d" cx="857" cy="715" r="2.6"/><circle class="d" cx="857" cy="875" r="2.6"/><circle class="d" cx="872" cy="619" r="1.8"/><circle class="d" cx="872" cy="699" r="1.8"/><circle class="d" cx="872" cy="779" r="1.8"/><circle class="d" cx="872" cy="859" r="1.8"/>
<use href="#gnd" x="648" y="968"/><use href="#gnd" x="857" y="968"/>
<rect class="fr" x="879" y="939" width="342" height="116"/><path class="fr" d="M879,982 H1221 M879,1006 H1221 M879,1030 H1221"/>
<text x="887" y="956" class="tb">Latched Register Array</text>
<text x="887" y="999" class="tg">Project</text>
<text x="887" y="1023" class="tg">Filename</text><text x="950" y="1023" class="tb">Mini4.fzz</text><text x="1128" y="1023" class="tg">Rev</text>
<text x="887" y="1047" class="tg">Date</text><text x="950" y="1047" class="tb">24 Dec 2015 10:52:03</text><text x="1128" y="1050" class="tg">Sheet</text><text x="1167" y="1050" class="tb">1/1</text>

<!-- ============ PANEL 6: UTILITY LEDs ============ -->
<rect class="fr" x="1" y="1073" width="458" height="337"/>
<path class="w" d="M72,1132 V1305 M169,1132 V1276 M265,1132 V1276 M361,1132 V1276 M72,1276 H361"/>
<path class="g" d="M72,1132 V1163 M72,1178 V1208 M72,1220 V1228 M72,1262 V1276 M169,1132 V1163 M169,1178 V1208 M169,1220 V1228 M169,1262 V1276 M265,1132 V1163 M265,1178 V1208 M265,1220 V1228 M265,1262 V1276 M361,1132 V1163 M361,1178 V1208 M361,1220 V1228 M361,1262 V1276 M72,1290 V1305"/>
<use href="#ledD" x="72" y="1163"/><use href="#ledD" x="169" y="1163"/><use href="#ledD" x="265" y="1163"/><use href="#ledD" x="361" y="1163"/>
<use href="#resV" x="72" y="1245"/><use href="#resV" x="169" y="1245"/><use href="#resV" x="265" y="1245"/><use href="#resV" x="361" y="1245"/>
<rect class="nb" x="49" y="1125" width="20" height="14"/><rect class="ng" x="66" y="1125" width="6" height="14"/><text x="50" y="1136" class="lb">LU1</text>
<rect class="nb" x="145" y="1125" width="21" height="14"/><rect class="ng" x="163" y="1125" width="6" height="14"/><text x="146" y="1136" class="lb">LU2</text>
<rect class="nb" x="241" y="1125" width="21" height="14"/><rect class="ng" x="259" y="1125" width="6" height="14"/><text x="242" y="1136" class="lb">LU3</text>
<rect class="nb" x="337" y="1125" width="21" height="14"/><rect class="ng" x="355" y="1125" width="6" height="14"/><text x="338" y="1136" class="lb">LU4</text>
<text x="77" y="1144" class="lb">LU1</text><text x="77" y="1155" class="lb">Red (633nm)</text>
<text x="175" y="1142" class="lb">LU2</text><text x="175" y="1154" class="lb">Green (570nm)</text>
<text x="271" y="1142" class="lb">LU3</text><text x="271" y="1154" class="lb">Yellow (595nm)</text>
<text x="373" y="1140" class="lb">LU4</text><text x="373" y="1151" class="lb">solid</text><text x="373" y="1162" class="lb">Blue (525nm)</text>
<text x="87" y="1240" class="lb">RLU1</text><text x="87" y="1251" class="lb">330Ω</text>
<text x="182" y="1240" class="lb">RLU2</text><text x="182" y="1251" class="lb">330Ω</text>
<text x="278" y="1240" class="lb">RLU3</text><text x="278" y="1251" class="lb">1kΩ</text>
<text x="374" y="1240" class="lb">RLU4</text><text x="374" y="1251" class="lb">1kΩ</text>
<circle class="d" cx="72" cy="1276" r="2.6"/><circle class="d" cx="169" cy="1276" r="2.6"/><circle class="d" cx="265" cy="1276" r="2.6"/>
<use href="#gnd" x="72" y="1306"/>
<rect class="fr" x="117" y="1294" width="342" height="116"/><path class="fr" d="M117,1337 H459 M117,1361 H459 M117,1385 H459"/>
<text x="125" y="1311" class="tb">Utility LEDs</text>
<text x="125" y="1354" class="tg">Project</text>
<text x="125" y="1378" class="tg">Filename</text><text x="188" y="1378" class="tb">Mini4.fzz</text><text x="366" y="1378" class="tg">Rev</text>
<text x="125" y="1401" class="tg">Date</text><text x="188" y="1401" class="tb">24 Dec 2015 10:53:26</text><text x="366" y="1404" class="tg">Sheet</text><text x="405" y="1404" class="tb">1/1</text>

<!-- ============ PANEL 7: LED COLUMNS ============ -->
<rect class="fr" x="517" y="1070" width="704" height="455"/>
<path class="w" d="M647,1115 V1370 M838,1115 V1370 M1111,1115 V1370
M580,1227 H647 M580,1275 H647 M580,1323 H647 M580,1370 H647
M771,1227 H838 M771,1275 H838 M771,1323 H838 M771,1370 H838
M1044,1227 H1111 M1044,1275 H1111 M1044,1323 H1111 M1044,1370 H1111"/>
<path class="g" d="M647,1115 V1128 M647,1140 V1163 M647,1180 V1198 M838,1115 V1128 M838,1140 V1163 M838,1180 V1198 M1111,1115 V1128 M1111,1140 V1163 M1111,1180 V1198"/>
<use href="#resV" x="647" y="1162"/><use href="#resV" x="838" y="1162"/><use href="#resV" x="1111" y="1162"/>
<use href="#ledL" x="647" y="1227"/><use href="#ledL" x="647" y="1275"/><use href="#ledL" x="647" y="1323"/><use href="#ledL" x="647" y="1370"/>
<use href="#ledL" x="838" y="1227"/><use href="#ledL" x="838" y="1275"/><use href="#ledL" x="838" y="1323"/><use href="#ledL" x="838" y="1370"/>
<use href="#ledL" x="1111" y="1227"/><use href="#ledL" x="1111" y="1275"/><use href="#ledL" x="1111" y="1323"/><use href="#ledL" x="1111" y="1370"/>
<circle class="d" cx="647" cy="1227" r="2.6"/><circle class="d" cx="647" cy="1275" r="2.6"/><circle class="d" cx="647" cy="1323" r="2.6"/>
<circle class="d" cx="838" cy="1227" r="2.6"/><circle class="d" cx="838" cy="1275" r="2.6"/><circle class="d" cx="838" cy="1323" r="2.6"/>
<circle class="d" cx="1111" cy="1227" r="2.6"/><circle class="d" cx="1111" cy="1275" r="2.6"/><circle class="d" cx="1111" cy="1323" r="2.6"/>
<rect class="nb" x="625" y="1108" width="20" height="14"/><rect class="ng" x="641" y="1108" width="6" height="14"/><text x="626" y="1119" class="lb">LC1</text>
<rect class="nb" x="816" y="1108" width="20" height="14"/><rect class="ng" x="832" y="1108" width="6" height="14"/><text x="817" y="1119" class="lb">LC2</text>
<rect class="nb" x="1084" y="1108" width="24" height="14"/><rect class="ng" x="1105" y="1108" width="6" height="14"/><text x="1085" y="1119" class="lb">LC16</text>
<text x="662" y="1160" class="lb">RC1</text><text x="662" y="1171" class="lb">220Ω</text>
<text x="853" y="1160" class="lb">RC2</text><text x="853" y="1171" class="lb">220Ω</text>
<text x="1125" y="1160" class="lb">RC16</text><text x="1125" y="1171" class="lb">220Ω</text>
<rect class="nb" x="557" y="1220" width="23" height="14"/><rect class="ng" x="576" y="1220" width="6" height="14"/><text x="558" y="1231" class="lb">LCa1</text>
<rect class="nb" x="557" y="1268" width="23" height="14"/><rect class="ng" x="576" y="1268" width="6" height="14"/><text x="558" y="1279" class="lb">LCa2</text>
<rect class="nb" x="557" y="1316" width="23" height="14"/><rect class="ng" x="576" y="1316" width="6" height="14"/><text x="558" y="1327" class="lb">LCa3</text>
<rect class="nb" x="557" y="1363" width="23" height="14"/><rect class="ng" x="576" y="1363" width="6" height="14"/><text x="558" y="1374" class="lb">LCa4</text>
<rect class="nb" x="748" y="1220" width="23" height="14"/><rect class="ng" x="767" y="1220" width="6" height="14"/><text x="749" y="1231" class="lb">LCa1</text>
<rect class="nb" x="748" y="1268" width="23" height="14"/><rect class="ng" x="767" y="1268" width="6" height="14"/><text x="749" y="1279" class="lb">LCa2</text>
<rect class="nb" x="748" y="1316" width="23" height="14"/><rect class="ng" x="767" y="1316" width="6" height="14"/><text x="749" y="1327" class="lb">LCa3</text>
<rect class="nb" x="748" y="1363" width="23" height="14"/><rect class="ng" x="767" y="1363" width="6" height="14"/><text x="749" y="1374" class="lb">LCa4</text>
<rect class="nb" x="1020" y="1220" width="23" height="14"/><rect class="ng" x="1039" y="1220" width="6" height="14"/><text x="1021" y="1231" class="lb">LCa1</text>
<rect class="nb" x="1020" y="1268" width="23" height="14"/><rect class="ng" x="1039" y="1268" width="6" height="14"/><text x="1021" y="1279" class="lb">LCa2</text>
<rect class="nb" x="1020" y="1316" width="23" height="14"/><rect class="ng" x="1039" y="1316" width="6" height="14"/><text x="1021" y="1327" class="lb">LCa3</text>
<rect class="nb" x="1020" y="1363" width="23" height="14"/><rect class="ng" x="1039" y="1363" width="6" height="14"/><text x="1021" y="1374" class="lb">LCa4</text>
<text x="656" y="1220" class="lb">LC1L1</text><text x="656" y="1231" class="lb">Blue (430nm)</text>
<text x="656" y="1267" class="lb">LC1L2</text><text x="656" y="1279" class="lb">Blue (430nm)</text>
<text x="656" y="1315" class="lb">LC1L3</text><text x="656" y="1327" class="lb">Blue (430nm)</text>
<text x="656" y="1362" class="lb">LC1L4</text><text x="656" y="1374" class="lb">Blue (430nm)</text>
<text x="847" y="1220" class="lb">LC2L1</text><text x="847" y="1231" class="lb">Blue (430nm)</text>
<text x="847" y="1267" class="lb">LC2L2</text><text x="847" y="1279" class="lb">Blue (430nm)</text>
<text x="847" y="1315" class="lb">LC2L3</text><text x="847" y="1327" class="lb">Blue (430nm)</text>
<text x="847" y="1362" class="lb">LC2L4</text><text x="847" y="1374" class="lb">Blue (430nm)</text>
<text x="1119" y="1220" class="lb">LC16L1</text><text x="1119" y="1231" class="lb">Blue (430nm)</text>
<text x="1119" y="1267" class="lb">LC16L2</text><text x="1119" y="1279" class="lb">Blue (430nm)</text>
<text x="1119" y="1315" class="lb">LC16L3</text><text x="1119" y="1327" class="lb">Blue (430nm)</text>
<text x="1119" y="1362" class="lb">LC16L4</text><text x="1119" y="1374" class="lb">Blue (430nm)</text>
<polygon points="907,1098 1020,1098 1032,1110 1032,1195 907,1195" fill="#fde6c2"/>
<polygon points="1020,1098 1032,1110 1020,1110" fill="#f3b54a"/>
<rect x="907" y="1182" width="125" height="13" fill="#f3b54a"/>
<text x="919" y="1126" font-size="16">plus 13 more</text>
<text x="919" y="1146" font-size="16">like this for</text>
<text x="919" y="1166" font-size="16">LC3-LC15</text>
<rect class="fr" x="873" y="1409" width="348" height="116"/><path class="fr" d="M873,1452 H1221 M873,1476 H1221 M873,1500 H1221"/>
<text x="881" y="1426" class="tb">16x LED Columns</text>
<text x="881" y="1469" class="tg">Project</text>
<text x="881" y="1493" class="tg">Filename</text><text x="944" y="1493" class="tb">Mini4.fzz</text><text x="1123" y="1493" class="tg">Rev</text>
<text x="881" y="1516" class="tg">Date</text><text x="944" y="1516" class="tb">24 Dec 2015 10:53:02</text><text x="1123" y="1519" class="tg">Sheet</text><text x="1162" y="1519" class="tb">1/1</text>

<path d="M0,1566 H1221" stroke="#555" stroke-width="1"/>
<text x="1117" y="1560" font-size="26" style="fill:#9a9a9a">fritzing</text>
</svg>
</body></html>
